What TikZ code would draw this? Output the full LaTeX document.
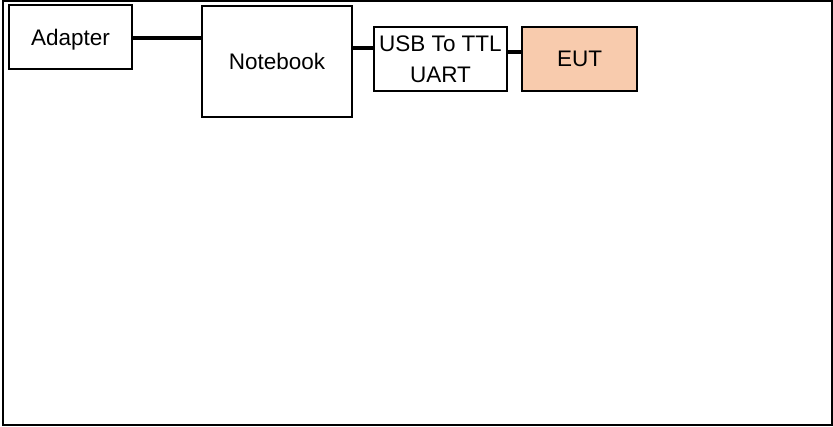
\documentclass[tikz,border=0pt]{standalone}
\usepackage{fontspec}
\setmainfont{Liberation Sans}
\usetikzlibrary{positioning, calc}
\definecolor{eutfill}{HTML}{F8CBAD}

\begin{document}
\begin{tikzpicture}[x=1pt,y=-1pt,
    blk/.style={draw,line width=1.8pt,inner sep=0pt,align=center,font=\fontsize{22.5}{31}\selectfont},
    link/.style={line width=3.6pt}]
    \useasboundingbox (0,0) rectangle (833,427);
    \draw[line width=1.8pt] (3,1) rectangle (832,425);
    %
    \node[blk,text depth=0pt,minimum width=123pt,minimum height=64pt] (adapter) at (70.5,37) {Adapter};
    \node[blk,minimum width=150pt,minimum height=111pt] (notebook) at (277,61.5) {Notebook};
    \node[blk,minimum width=133pt,minimum height=64pt] (usb) at (440.5,59) {USB To TTL\\UART};
    \node[blk,fill=eutfill,minimum width=115pt,minimum height=64pt] (eut) at (579.5,59) {EUT};
    %
    \draw[link] (adapter.east |- 0,38) -- (notebook.west |- 0,38);
    \draw[link] (notebook.east |- 0,48) -- (usb.west |- 0,48);
    \draw[link] (usb.east |- 0,52) -- (eut.west |- 0,52);
\end{tikzpicture}
\end{document}
